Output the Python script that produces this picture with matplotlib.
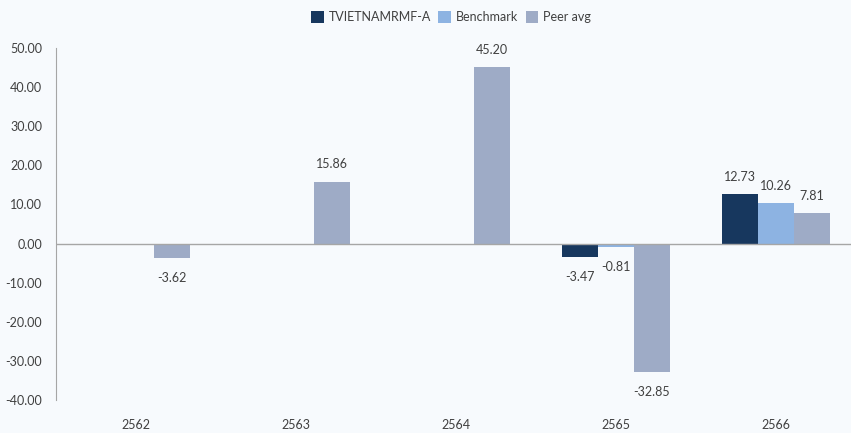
import numpy as np
import matplotlib.pyplot as plt

# data
years = ["2562", "2563", "2564", "2565", "2566"]
fund = [np.nan, np.nan, np.nan, -3.47, 12.73]
bench = [np.nan, np.nan, np.nan, -0.81, 10.26]
peer = [-3.62, 15.86, 45.20, -32.85, 7.81]

names = ["TVIETNAMRMF-A", "Benchmark", "Peer avg"]
colors = ["#17375e", "#8db3e2", "#9eabc6"]
bg = "#f7fafd"
txt = "#404040"

plt.rcParams['font.family'] = ['Lato', 'DejaVu Sans']

fig = plt.figure(figsize=(8.51, 4.33), dpi=100, facecolor=bg)
ax = fig.add_axes([56/851, 33/433, 800/851, 352/433])
ax.set_facecolor(bg)

x = np.arange(len(years))
w = 0.225
series = [fund, bench, peer]
for i, (vals, c, n) in enumerate(zip(series, colors, names)):
    bars = ax.bar(x + (i-1)*w, vals, w, color=c, label=n, zorder=2)
    for b, v in zip(bars, vals):
        if np.isnan(v):
            continue
        if v >= 0:
            ax.annotate("%.2f" % v, (b.get_x()+b.get_width()/2, v), xytext=(0, 8),
                        textcoords="offset points", ha="center", va="bottom",
                        fontsize=9, color=txt)
        else:
            ax.annotate("%.2f" % v, (b.get_x()+b.get_width()/2, v), xytext=(0, -10),
                        textcoords="offset points", ha="center", va="top",
                        fontsize=9, color=txt)

ax.axhline(0, color="#a6a6a6", lw=1, zorder=3)
ax.set_xlim(-0.5, 4.5)
ax.set_ylim(-40, 50)
ax.set_yticks(np.arange(-40, 51, 10))
ax.set_yticklabels(["%.2f" % t for t in np.arange(-40, 51, 10)])
ax.set_xticks(x)
ax.set_xticklabels(years)
ax.tick_params(axis="both", length=0, labelsize=9, colors=txt)
ax.tick_params(axis="x", pad=14)
ax.tick_params(axis="y", pad=10)
for s in ["top", "right", "bottom"]:
    ax.spines[s].set_visible(False)
ax.spines["left"].set_color("#a6a6a6")
ax.spines["left"].set_bounds(-40, 50)

fig.legend(loc="upper center", bbox_to_anchor=(0.53, 1.0), ncol=3, frameon=False,
           fontsize=9, handlelength=1.0, handleheight=1.0, handletextpad=0.4,
           columnspacing=0.6, labelcolor=txt)

fig.savefig("out.png", dpi=100, facecolor=bg)
